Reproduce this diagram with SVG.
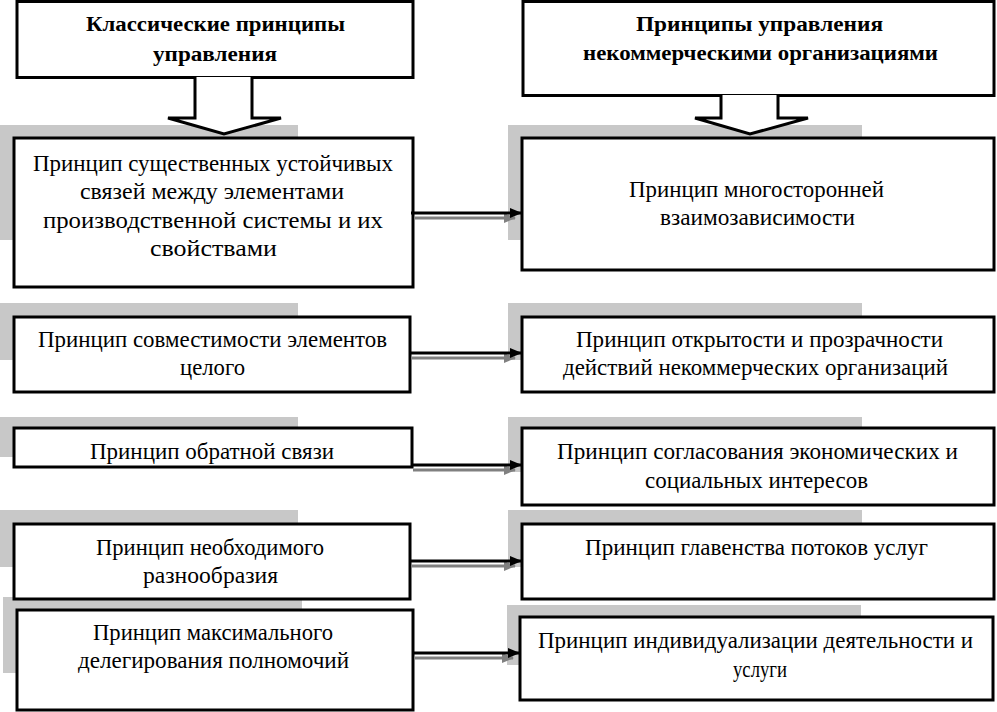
<svg xmlns="http://www.w3.org/2000/svg" width="997" height="712" viewBox="0 0 997 712">
<style>
.shadow{fill:#c8c8c8;stroke:none}
.box{fill:#fff;stroke:#000;stroke-width:3}
.blk{fill:#fff;stroke:#000;stroke-width:3;stroke-linejoin:miter}
.ln{stroke:#000;stroke-width:3;fill:none}
.lns{stroke:#808080;stroke-width:3;fill:none}
</style>
<defs>
<marker id="ah" markerWidth="12" markerHeight="10" refX="11" refY="5" orient="auto" markerUnits="userSpaceOnUse"><path d="M0,0 L12,5 L0,10 Z" fill="#000"/></marker>
<marker id="ahs" markerWidth="12" markerHeight="10" refX="11" refY="5" orient="auto" markerUnits="userSpaceOnUse"><path d="M0,0 L12,5 L0,10 Z" fill="#808080"/></marker>
</defs>
<g id="shadows">
<rect class="shadow" x="0" y="125" width="298" height="115"/>
<rect class="shadow" x="508" y="125" width="354" height="115"/>
<rect class="shadow" x="0" y="303" width="298" height="57"/>
<rect class="shadow" x="508" y="303" width="354" height="57"/>
<rect class="shadow" x="0" y="417" width="298" height="40"/>
<rect class="shadow" x="508" y="417" width="354" height="55"/>
<rect class="shadow" x="0" y="510" width="298" height="57"/>
<rect class="shadow" x="508" y="510" width="354" height="57"/>
<rect class="shadow" x="3" y="597" width="299" height="76"/>
<rect class="shadow" x="507" y="605" width="354" height="60"/>
</g>
<g id="nodes" font-family="Liberation Serif, Times New Roman, serif" font-size="22.5" fill="#000">
<g id="hdr-left">
<rect class="box" x="17" y="1.5" width="396" height="76"/>
<text font-weight="bold" font-size="20" x="86" y="31" textLength="259" lengthAdjust="spacingAndGlyphs">Классические принципы</text>
<text font-weight="bold" font-size="20" x="153" y="61" textLength="124" lengthAdjust="spacingAndGlyphs">управления</text>
</g>
<g id="hdr-right">
<rect class="box" x="523" y="1.5" width="471" height="94"/>
<text font-weight="bold" font-size="20" x="636" y="31" textLength="247" lengthAdjust="spacingAndGlyphs">Принципы управления</text>
<text font-weight="bold" font-size="20" x="583" y="60" textLength="355" lengthAdjust="spacingAndGlyphs">некоммерческими организациями</text>
</g>
<g id="left1">
<rect class="box" x="14" y="138" width="399" height="149"/>
<text x="33" y="171" textLength="360" lengthAdjust="spacingAndGlyphs">Принцип существенных устойчивых</text>
<text x="80" y="199" textLength="264" lengthAdjust="spacingAndGlyphs">связей между элементами</text>
<text x="43" y="228" textLength="340" lengthAdjust="spacingAndGlyphs">производственной системы и их</text>
<text x="150" y="256" textLength="127" lengthAdjust="spacingAndGlyphs">свойствами</text>
</g>
<g id="right1">
<rect class="box" x="522" y="138" width="472" height="132"/>
<text x="629" y="197" textLength="255" lengthAdjust="spacingAndGlyphs">Принцип многосторонней</text>
<text x="660" y="225" textLength="195" lengthAdjust="spacingAndGlyphs">взаимозависимости</text>
</g>
<g id="left2">
<rect class="box" x="14" y="317" width="396" height="75"/>
<text x="38" y="347" textLength="349" lengthAdjust="spacingAndGlyphs">Принцип совместимости элементов</text>
<text x="180" y="375" textLength="65" lengthAdjust="spacingAndGlyphs">целого</text>
</g>
<g id="right2">
<rect class="box" x="522" y="317" width="472" height="75"/>
<text x="576" y="347" textLength="367" lengthAdjust="spacingAndGlyphs">Принцип открытости и прозрачности</text>
<text x="563" y="375" textLength="385" lengthAdjust="spacingAndGlyphs">действий некоммерческих организаций</text>
</g>
<g id="left3">
<rect class="box" x="14" y="428" width="398" height="39"/>
<text x="90" y="459" textLength="244" lengthAdjust="spacingAndGlyphs">Принцип обратной связи</text>
</g>
<g id="right3">
<rect class="box" x="522" y="428" width="472" height="77"/>
<text x="557" y="459" textLength="401" lengthAdjust="spacingAndGlyphs">Принцип согласования экономических  и</text>
<text x="645" y="488" textLength="223" lengthAdjust="spacingAndGlyphs">социальных интересов</text>
</g>
<g id="left4">
<rect class="box" x="14" y="524" width="396" height="75"/>
<text x="96" y="555" textLength="228" lengthAdjust="spacingAndGlyphs">Принцип необходимого</text>
<text x="143" y="583" textLength="135" lengthAdjust="spacingAndGlyphs">разнообразия</text>
</g>
<g id="right4">
<rect class="box" x="522" y="524" width="472" height="75"/>
<text x="585" y="555" textLength="343" lengthAdjust="spacingAndGlyphs">Принцип главенства потоков услуг</text>
</g>
<g id="left5">
<rect class="box" x="17" y="610" width="396" height="100"/>
<text x="93" y="640" textLength="240" lengthAdjust="spacingAndGlyphs">Принцип максимального</text>
<text x="78" y="668" textLength="271" lengthAdjust="spacingAndGlyphs">делегирования полномочий</text>
</g>
<g id="right5">
<rect class="box" x="520" y="617" width="473" height="83"/>
<text x="538" y="648" textLength="435" lengthAdjust="spacingAndGlyphs">Принцип индивидуализации деятельности и</text>
<text x="733" y="677" textLength="54" lengthAdjust="spacingAndGlyphs">услуги</text>
</g>
</g>
<g id="connectors">
<path class="blk" d="M195,77 L195,118 L168,118 L224,134 L281,118 L252,118 L252,77"/>
<path class="blk" d="M721,95 L721,118 L695,118 L750,134 L808,118 L778,118 L778,95"/>
<line class="lns" x1="414" y1="218" x2="515" y2="218" marker-end="url(#ahs)"/>
<line class="ln" x1="411" y1="213" x2="521" y2="213" marker-end="url(#ah)"/>
<line class="lns" x1="411" y1="358" x2="515" y2="358" marker-end="url(#ahs)"/>
<line class="ln" x1="410" y1="353" x2="521" y2="353" marker-end="url(#ah)"/>
<line class="lns" x1="413" y1="470" x2="515" y2="470" marker-end="url(#ahs)"/>
<line class="ln" x1="412" y1="465" x2="521" y2="465" marker-end="url(#ah)"/>
<line class="lns" x1="411" y1="566" x2="515" y2="566" marker-end="url(#ahs)"/>
<line class="ln" x1="410" y1="561" x2="521" y2="561" marker-end="url(#ah)"/>
<line class="lns" x1="414" y1="658" x2="513" y2="658" marker-end="url(#ahs)"/>
<line class="ln" x1="413" y1="653" x2="519" y2="653" marker-end="url(#ah)"/>
</g>
</svg>
